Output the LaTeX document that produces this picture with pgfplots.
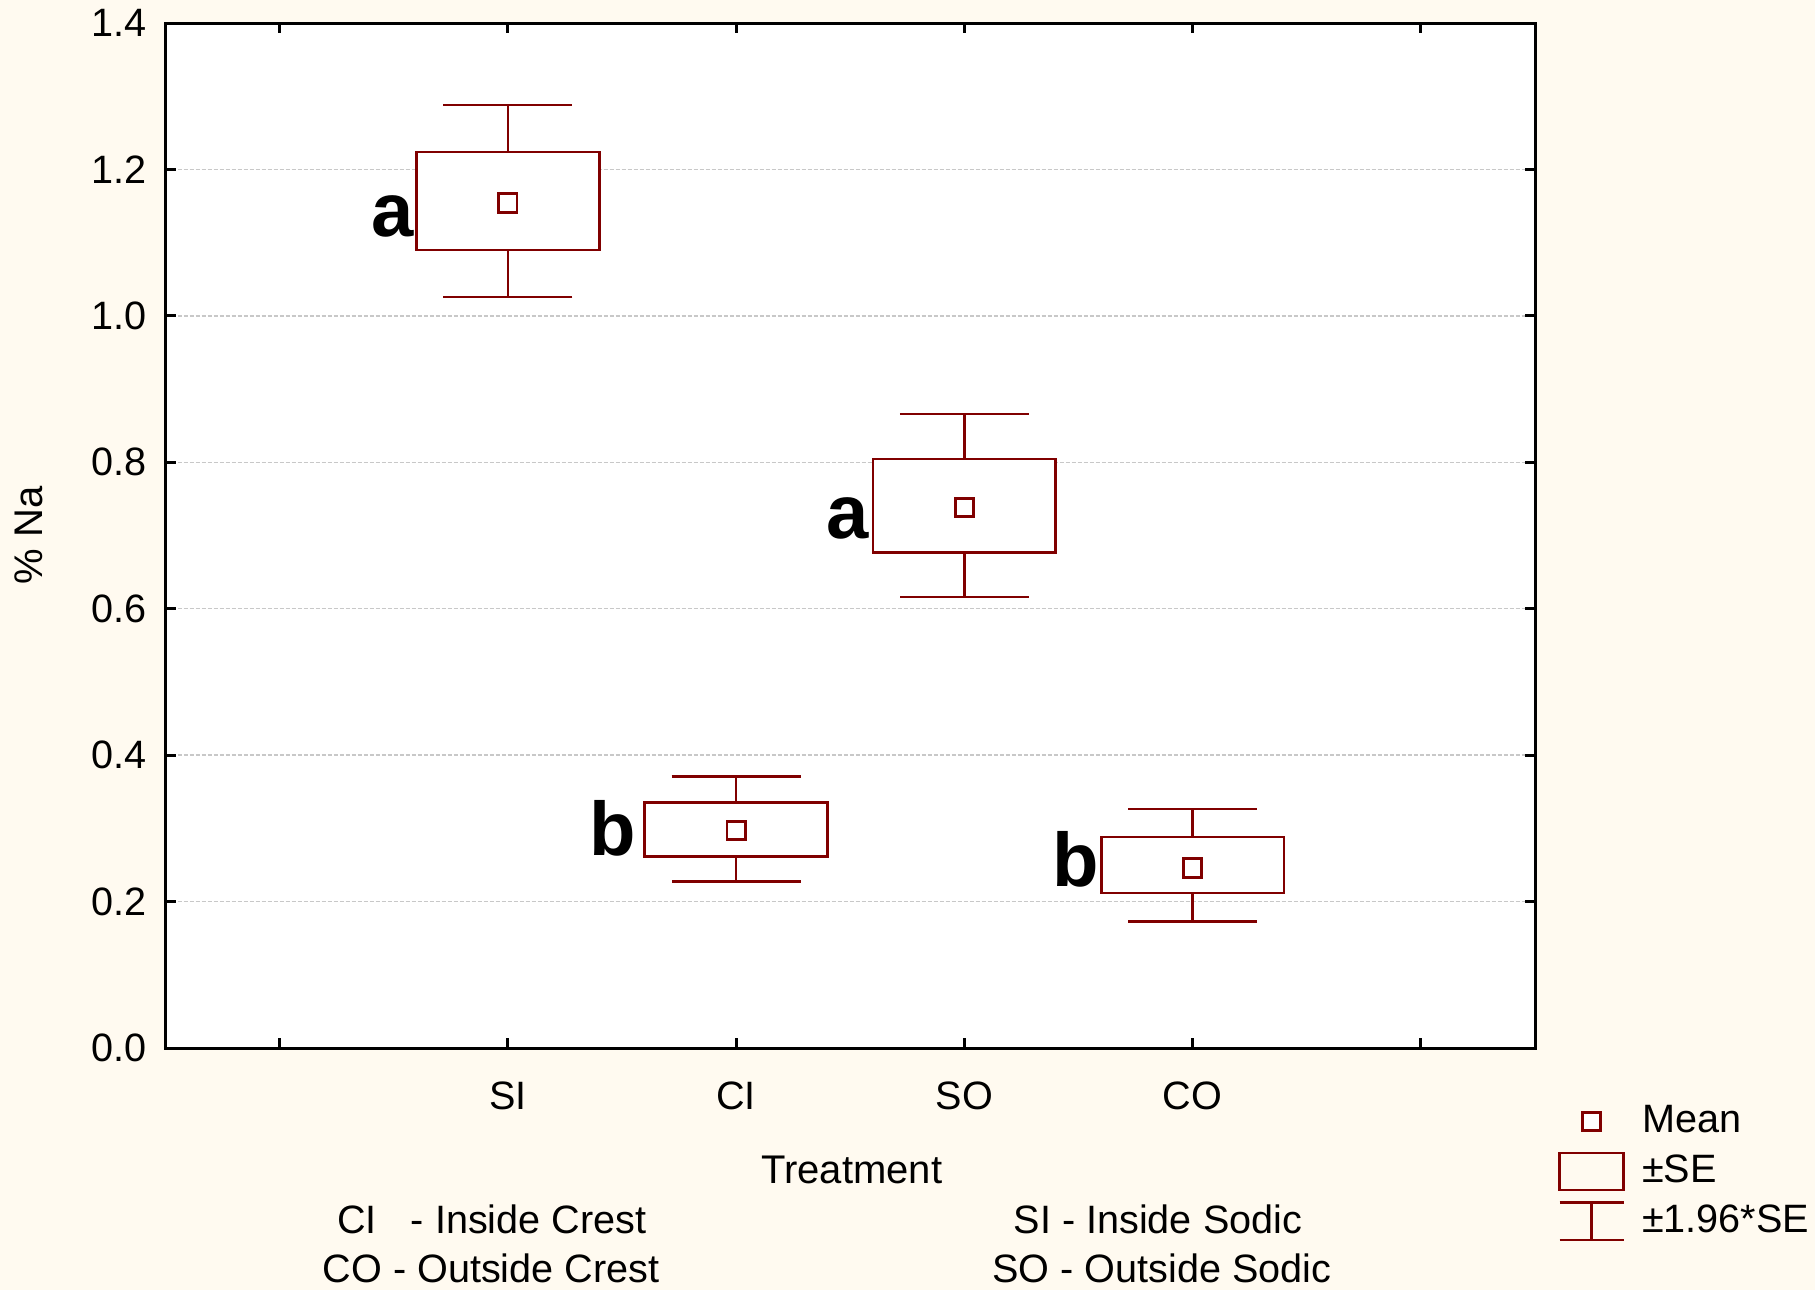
\documentclass[border=0pt]{standalone}
\usepackage{pgfplots}
\usepackage{pgfplotstable}
\pgfplotsset{compat=1.18}
\usepackage{fontspec}
\setmainfont{Liberation Sans}
\definecolor{bgcream}{RGB}{255,250,240}
\definecolor{darkred}{RGB}{128,0,0}
\newcommand\myfont{\fontsize{9.9pt}{11.8pt}\selectfont}
\newcommand\letfont{\fontsize{19pt}{22pt}\selectfont\bfseries}
\pgfplotstableread{
x lw lq mean uq uw
0 1.0258 1.0900 1.1542 1.2239 1.2880
1 0.2271 0.2617 0.2972 0.3355 0.3706
2 0.6160 0.6770 0.7384 0.8045 0.8660
3 0.1729 0.2117 0.2459 0.2882 0.3264
}\datatable
\pgfplotsset{
  meanleg/.style={only marks, mark=square*, mark size=2.3pt, mark options={draw=darkred, fill=white, line width=0.67pt, solid},
    legend image code/.code={\path[draw=none,fill=none] (0pt,-6.25pt) rectangle (16pt,6.25pt); \draw[mark repeat=2, mark phase=2, ##1] plot coordinates {(0pt,0pt) (8pt,0pt) (16pt,0pt)};}},
  seleg/.style={draw=darkred, line width=0.67pt,
    legend image code/.code={\path[draw=none,fill=none] (0pt,-6.25pt) rectangle (16pt,6.25pt); \draw[##1] (0pt,-4.65pt) rectangle (16pt,4.65pt);}},
  ciileg/.style={draw=darkred, line width=0.67pt,
    legend image code/.code={\path[draw=none,fill=none] (0pt,-6.25pt) rectangle (16pt,6.25pt); \draw[##1] (0pt,4.65pt) -- (16pt,4.65pt) (8pt,4.65pt) -- (8pt,-4.65pt) (0pt,-4.65pt) -- (16pt,-4.65pt);}},
  boxsty/.style={draw=darkred, fill=white, line width=0.67pt, line join=miter, forget plot, mark=none},
}
\begin{document}
\begin{tikzpicture}
\useasboundingbox (-41.375pt,-60.5pt) rectangle (412.375pt,262pt);
\fill[bgcream] (-41.375pt,-60.5pt) rectangle (412.375pt,262pt);
\begin{axis}[
  scale only axis,
  width=342.375pt, height=256.25pt,
  xmin=-1.5, xmax=4.5, ymin=0, ymax=1.4,
  xtick={-1,0,1,2,3,4},
  xticklabels={,SI,CI,SO,CO,},
  ytick={0,0.2,...,1.4},
  /pgf/number format/assume math mode=true,
  yticklabel style={/pgf/number format/fixed, /pgf/number format/fixed zerofill, /pgf/number format/precision=1, xshift=-1.2pt},
  tick label style={font=\myfont},
  xticklabel style={yshift=-5.0pt},
  major tick length=2.5pt,
  tick style={black, line width=0.75pt},
  axis line style={black, line width=0.75pt},
  axis background/.style={fill=white},
  ymajorgrids,
  major grid style={draw={rgb,255:red,200;green,200;blue,200}, line width=0.35pt, dash pattern=on 1pt off 0.5pt},
  clip=false,
  xlabel={Treatment},
  ylabel={\% Na},
  label style={font=\myfont},
  every axis x label/.style={at={(rel axis cs:0.5,0)}, anchor=center, yshift=-30.4pt, xshift=0.4pt},
  every axis y label/.style={at={(rel axis cs:0,0.5)}, anchor=center, xshift=-34.2pt, rotate=90},
  legend style={at={(rel axis cs:1,0)}, anchor=north west, xshift=5.6pt, yshift=-11.9pt,
    draw=none, fill=none, inner xsep=0pt, inner ysep=0pt, font=\myfont,
    nodes={inner sep=0pt}, column sep=4.3pt, row sep=0pt},
  legend cell align=left,
]
% +-1.96*SE whiskers
\addplot[only marks, mark=none, forget plot,
  error bars/.cd, y dir=both, y explicit,
  error bar style={draw=darkred, line width=0.67pt},
  error mark options={rotate=90, draw=darkred, line width=0.67pt, mark size=16.1pt}]
  table[x=x, y=mean, y error plus expr=\thisrow{uw}-\thisrow{mean}, y error minus expr=\thisrow{mean}-\thisrow{lw}] {\datatable};
% +-SE boxes
\addplot[boxsty] coordinates {(-0.4,1.0900) (0.4,1.0900) (0.4,1.2239) (-0.4,1.2239)} -- cycle;
\addplot[boxsty] coordinates {(0.6,0.2617) (1.4,0.2617) (1.4,0.3355) (0.6,0.3355)} -- cycle;
\addplot[boxsty] coordinates {(1.6,0.6770) (2.4,0.6770) (2.4,0.8045) (1.6,0.8045)} -- cycle;
\addplot[boxsty] coordinates {(2.6,0.2117) (3.4,0.2117) (3.4,0.2882) (2.6,0.2882)} -- cycle;
% Means
\addplot[only marks, mark=square*, mark size=2.3pt, mark options={draw=darkred, fill=white, line width=0.67pt, solid}, forget plot] table[x=x, y=mean] {\datatable};
% legend
\addlegendimage{meanleg}
\addlegendentry{Mean}
\addlegendimage{seleg}
\addlegendentry{±SE}
\addlegendimage{ciileg}
\addlegendentry{±1.96*SE}
% group letters
\node[anchor=base east, inner sep=0pt, xshift=1.2pt, font=\letfont] at (axis cs:-0.4288,1.1086) {a};
\node[anchor=base east, inner sep=0pt, xshift=1.2pt, font=\letfont] at (axis cs:0.5425,0.2627) {b};
\node[anchor=base east, inner sep=0pt, xshift=1.2pt, font=\letfont] at (axis cs:1.5616,0.6966) {a};
\node[anchor=base east, inner sep=0pt, xshift=1.2pt, font=\letfont] at (axis cs:2.5723,0.2207) {b};
% key to abbreviations
\node[anchor=base, inner sep=0pt, font=\myfont] at (rel axis cs:0,0) [xshift=81.6pt, yshift=-46.25pt] {CI\hspace{8.5pt}- Inside Crest};
\node[anchor=base, inner sep=0pt, font=\myfont] at (rel axis cs:0,0) [xshift=81.4pt, yshift=-58.7pt] {CO - Outside Crest};
\node[anchor=base, inner sep=0pt, font=\myfont] at (rel axis cs:0,0) [xshift=248.1pt, yshift=-46.25pt] {SI - Inside Sodic};
\node[anchor=base, inner sep=0pt, font=\myfont] at (rel axis cs:0,0) [xshift=249.1pt, yshift=-58.7pt] {SO - Outside Sodic};
\end{axis}
\end{tikzpicture}
\end{document}
